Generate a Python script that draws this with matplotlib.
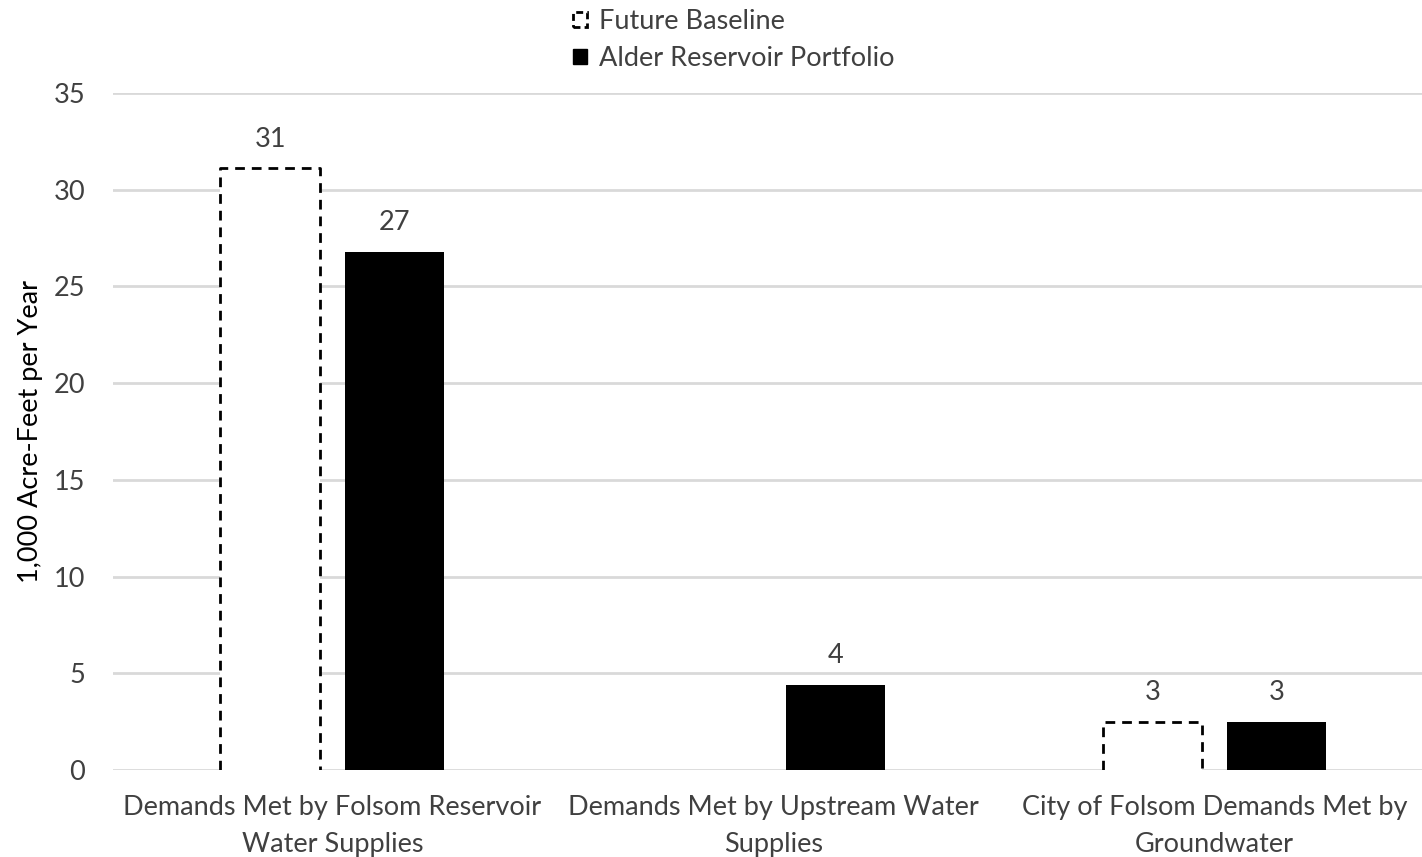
import matplotlib.pyplot as plt
from matplotlib.patches import Patch
import numpy as np

plt.rcParams['font.family'] = ['Lato', 'DejaVu Sans']

categories = ["Demands Met by Folsom Reservoir\nWater Supplies",
              "Demands Met by Upstream Water\nSupplies",
              "City of Folsom Demands Met by\nGroundwater"]
baseline = [31.1, 0.0, 2.5]
alder = [26.8, 4.4, 2.5]
series_names = ["Future Baseline", "Alder Reservoir Portfolio"]
yticks = [0, 5, 10, 15, 20, 25, 30, 35]

txt = '#404040'
fs = 19.5
fig = plt.figure(figsize=(14.22, 8.57), dpi=100)
ax = fig.add_axes([0.0795, 0.1015, 0.9205, 0.79])

x = np.arange(len(categories))
w = 0.225
off = 0.141
dash = (0, (3.5, 2.5))

b1 = ax.bar(x - off, baseline, w, facecolor='white', edgecolor='none', zorder=3)
b2 = ax.bar(x + off, alder, w, color='black', zorder=3)

# dashed outline, open at the bottom
for p in b1:
    h = p.get_height()
    if h > 0:
        x0, x1 = p.get_x(), p.get_x() + p.get_width()
        ax.plot([x0, x0, x1, x1], [0, h, h, 0], color='black', lw=2,
                linestyle=dash, zorder=4, solid_joinstyle='miter')


def label(v):
    return str(int(np.floor(v + 0.5)))


for xi, v in zip(x - off, baseline):
    if v > 0:
        ax.text(xi, v + 0.85, label(v), ha='center', va='bottom', fontsize=fs, color=txt)
for xi, v in zip(x + off, alder):
    if v > 0:
        ax.text(xi, v + 0.85, label(v), ha='center', va='bottom', fontsize=fs, color=txt)

ax.set_ylim(0, 35)
ax.set_xlim(-0.497, 2.47)
ax.set_yticks(yticks)
ax.yaxis.grid(True, color='#d9d9d9', linewidth=2)
ax.set_axisbelow(True)
for s in ax.spines.values():
    s.set_visible(False)
ax.tick_params(axis='both', length=0, labelsize=fs, colors=txt)
ax.tick_params(axis='y', pad=20)
ax.tick_params(axis='x', pad=18)
ax.set_xticks(x)
ax.set_xticklabels(categories, fontsize=fs, color=txt, linespacing=1.6)
ax.set_ylabel("1,000 Acre-Feet per Year", fontsize=fs, color='black', labelpad=8)

handles = [Patch(facecolor='white', edgecolor='black', linestyle=(0, (2.5, 1.5)), linewidth=2),
           Patch(facecolor='black', edgecolor='black')]
fig.legend(handles, series_names, loc='upper left', bbox_to_anchor=(0.386, 1.018),
           frameon=False, fontsize=fs, labelcolor=txt, handlelength=0.5,
           handleheight=0.5, handletextpad=0.45, labelspacing=0.45)

fig.savefig("out.png", dpi=100)
